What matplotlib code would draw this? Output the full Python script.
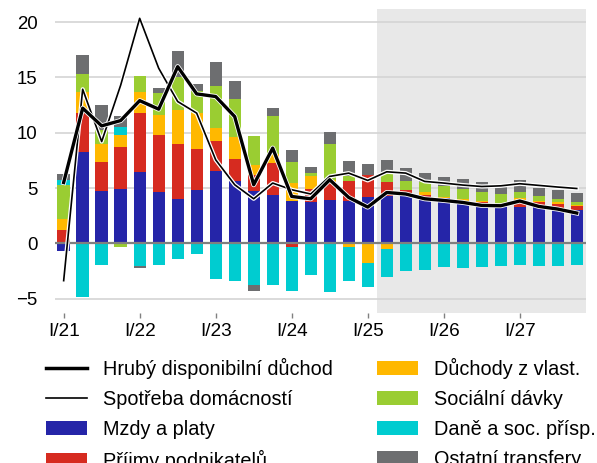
import numpy as np
import matplotlib.pyplot as plt
import matplotlib.patheffects as pe
from matplotlib.lines import Line2D
from matplotlib.patches import Patch

plt.rcParams['font.family'] = ['Liberation Sans', 'DejaVu Sans']

# Čtvrtletí I/21 - IV/27
quarters = [f"{q}/{y}" for y in range(21, 28) for q in ["I", "II", "III", "IV"]]

# Příspěvky k růstu (p. b.)
mzdy = [-0.72, 8.30, 4.69, 4.87, 6.41, 4.60, 4.03, 4.85, 6.56, 5.66, 4.76, 4.33, 3.79, 3.70,
        3.94, 3.85, 4.15, 4.24, 4.46, 4.10, 4.10, 3.70, 3.65, 3.34, 3.25, 3.31, 3.00, 2.98]
podnikatele = [1.17, 3.52, 2.68, 3.88, 5.41, 5.15, 4.97, 3.70, 2.65, 1.98, 1.44, 2.95, -0.30, 1.24,
               1.56, 1.75, 2.02, 1.33, 0.39, 0.30, 0.00, 0.15, 0.10, 0.13, 0.67, 0.39, 0.60, 0.40]
vlastnictvi = [1.06, 1.90, 1.63, 1.06, 1.90, 1.87, 3.07, 3.22, 1.26, 1.93, 0.84, 0.79, 1.71, 1.11,
               0.25, -0.36, -1.74, -0.48, 0.00, 0.20, 0.05, 0.15, 0.12, 0.13, 0.14, 0.15, 0.10, 0.05]
davky = [3.07, 1.60, 1.26, -0.36, 1.42, 1.98, 3.00, 2.01, 3.76, 3.49, 2.62, 3.46, 1.87, 0.27,
         3.25, 0.51, 0.00, 0.69, 0.75, 0.97, 0.99, 0.91, 0.80, 0.82, 0.60, 0.46, 0.33, 0.27]
dane = [0.45, -4.87, -1.95, 0.69, -2.07, -1.98, -1.44, -0.93, -3.25, -3.37, -3.79, -3.79, -3.97, -2.89,
        -4.39, -3.01, -2.23, -2.59, -2.53, -2.44, -2.17, -2.26, -2.17, -2.08, -1.92, -2.01, -2.01, -1.92]
ostatni = [0.48, 1.71, 2.29, 1.03, -0.19, 0.45, 2.32, 0.63, 2.20, 1.62, -0.54, 0.72, 1.09, 0.60,
           1.08, 1.35, 1.02, 1.29, 1.23, 0.81, 0.88, 0.93, 0.84, 0.96, 1.09, 0.69, 0.81, 0.88]

# Meziroční růst (%)
hdd = [5.50, 12.22, 10.62, 11.10, 12.90, 12.13, 15.97, 13.51, 13.27, 11.46, 5.30, 8.61, 4.24, 4.03,
       5.75, 4.15, 3.28, 4.60, 4.46, 4.03, 3.88, 3.70, 3.43, 3.40, 3.83, 3.34, 3.10, 2.74]
spotreba = [-3.37, 13.93, 9.20, 14.30, 20.34, 15.83, 12.82, 11.77, 7.55, 5.30, 4.03, 5.45, 4.85, 4.46,
            6.05, 6.35, 5.69, 6.47, 6.35, 5.60, 5.45, 5.27, 5.14, 5.20, 5.39, 5.24, 5.09, 4.96]

series = [mzdy, podnikatele, vlastnictvi, davky, dane, ostatni]
labels = ["Mzdy a platy", "Příjmy podnikatelů", "Důchody z vlast.",
          "Sociální dávky", "Daně a soc. přísp.", "Ostatní transfery"]
colors = ["#2525a8", "#d62b20", "#ffb800", "#9acd32", "#00ccd0", "#6d6e70"]

x = np.arange(len(quarters))

fig = plt.figure(figsize=(5.97, 4.63), dpi=100)
ax = fig.add_axes([0.092, 0.325, 0.89, 0.656])

# Prognóza
ax.axvspan(16.5, 27.5, color="#e8e8e8", zorder=0, lw=0)
for yv in [-5, 5, 10, 15, 20]:
    ax.axhline(yv, color="#d4d4d4", lw=1.2, zorder=1)

pos = np.zeros(len(x))
neg = np.zeros(len(x))
for vals, col in zip(series, colors):
    v = np.array(vals)
    bottom = np.where(v >= 0, pos, neg)
    ax.bar(x, v, 0.65, bottom=bottom, color=col, zorder=2, lw=0)
    pos += np.where(v >= 0, v, 0)
    neg += np.where(v < 0, v, 0)

ax.axhline(0, color="#7f7f7f", lw=1.6, zorder=3)

ax.plot(x, spotreba, color="black", lw=1.2, zorder=4,
        path_effects=[pe.Stroke(linewidth=3.0, foreground="white"), pe.Normal()])
ax.plot(x, hdd, color="black", lw=2.4, zorder=5,
        path_effects=[pe.Stroke(linewidth=3.6, foreground="white"), pe.Normal()])

ax.set_xlim(-0.46, 27.5)
ax.set_ylim(-6.25, 21.2)
ax.set_yticks([-5, 0, 5, 10, 15, 20])
ax.set_xticks(x[::4])
ax.set_xticklabels(quarters[::4])
ax.tick_params(axis="y", length=0, pad=12.5, labelsize=13.4)
ax.tick_params(axis="x", length=3.5, width=1, color="#808080", pad=4, labelsize=13.7)
for s in ax.spines.values():
    s.set_visible(False)

handles = [Line2D([], [], color="black", lw=2.5),
           Line2D([], [], color="black", lw=1.2)]
handles += [Patch(color=c, lw=0) for c in colors]
names = ["Hrubý disponibilní důchod", "Spotřeba domácností"] + labels
fig.legend(handles, names, ncol=2, loc="upper left", bbox_to_anchor=(0.077, 0.227),
           frameon=False, fontsize=14.3, handlelength=2.05, handletextpad=0.8,
           columnspacing=2.25, labelspacing=0.56, borderpad=0, borderaxespad=0)

plt.savefig("out.png", dpi=100)
